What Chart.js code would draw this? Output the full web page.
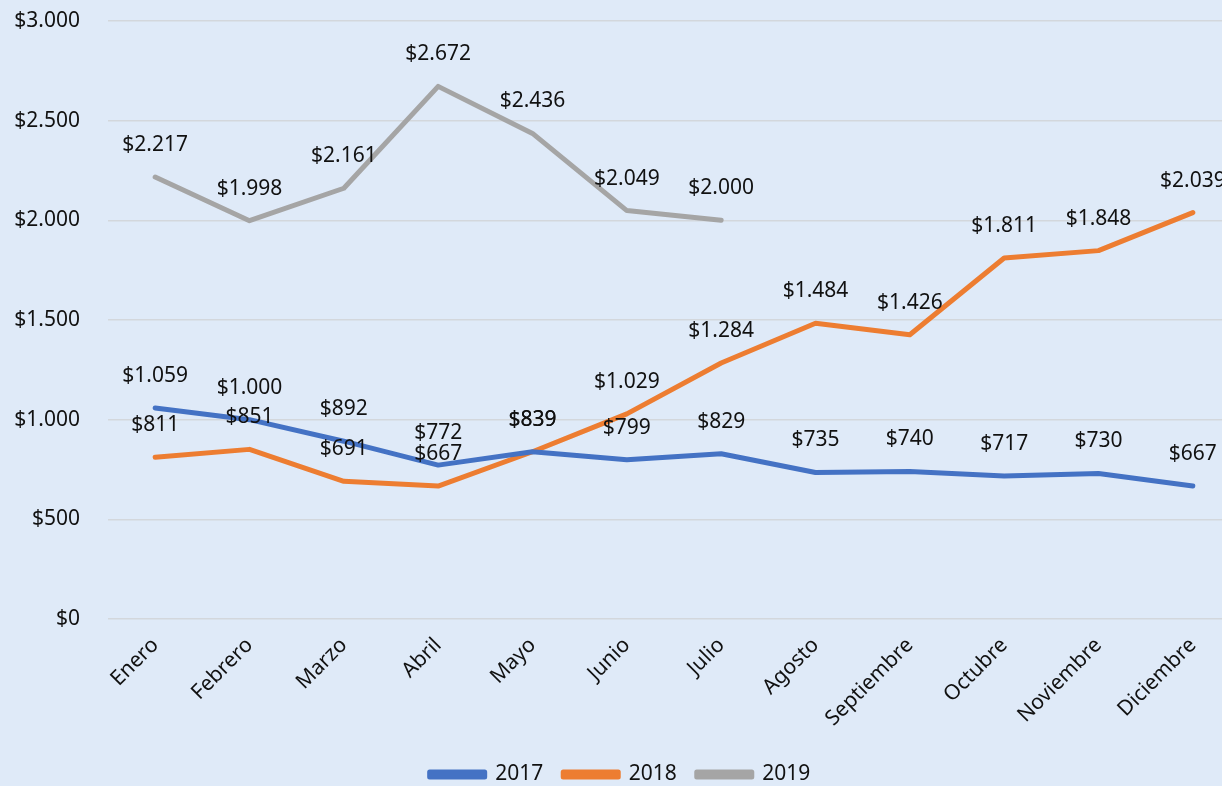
<!DOCTYPE html>
<html>
<head>
    <meta charset="utf-8">
    <title>Ventas mensuales 2017-2019</title>
    <script src="https://cdn.jsdelivr.net/npm/chart.js"></script>
    <style>
        html, body {
            margin: 0;
            padding: 0;
            overflow: hidden;
            background: #dfeaf8;
        }
        .chart-box {
            position: absolute;
            left: 0;
            top: 0;
            width: 1270px;
            height: 786px;
            background: #dfeaf8;
        }
    </style>
</head>
<body>
    <div class="chart-box">
        <canvas id="myChart"></canvas>
    </div>

    <script>
        // datos
        const meses = ['Enero', 'Febrero', 'Marzo', 'Abril', 'Mayo', 'Junio', 'Julio',
                       'Agosto', 'Septiembre', 'Octubre', 'Noviembre', 'Diciembre'];
        const ventas2017 = [1059, 1000, 892, 772, 839, 799, 829, 735, 740, 717, 730, 667];
        const ventas2018 = [811, 851, 691, 667, 839, 1029, 1284, 1484, 1426, 1811, 1848, 2039];
        const ventas2019 = [2217, 1998, 2161, 2672, 2436, 2049, 2000, null, null, null, null, null];

        const fuente = '"Noto Sans", "Open Sans", sans-serif';

        // formato $1.234
        function moneda(v) {
            return '$' + Math.round(v).toString().replace(/\B(?=(\d{3})+(?!\d))/g, '.');
        }

        // etiquetas de valor encima de cada punto
        const etiquetasPlugin = {
            id: 'etiquetas',
            afterDatasetsDraw(chart) {
                const ctx = chart.ctx;
                ctx.save();
                ctx.font = '21px ' + fuente;
                ctx.fillStyle = '#111';
                ctx.textAlign = 'center';
                ctx.textBaseline = 'middle';
                chart.data.datasets.forEach((ds, i) => {
                    const meta = chart.getDatasetMeta(i);
                    meta.data.forEach((pt, j) => {
                        const v = ds.data[j];
                        if (v === null || v === undefined) return;
                        ctx.fillText(moneda(v), pt.x, pt.y - 32);
                    });
                });
                ctx.restore();
            }
        };

        const ctx = document.getElementById('myChart').getContext('2d');
        const myChart = new Chart(ctx, {
            type: 'line',
            data: {
                labels: meses,
                datasets: [
                    { label: '2017', data: ventas2017, borderColor: '#4472c4', backgroundColor: '#4472c4' },
                    { label: '2018', data: ventas2018, borderColor: '#ed7d31', backgroundColor: '#ed7d31' },
                    { label: '2019', data: ventas2019, borderColor: '#a5a5a5', backgroundColor: '#a5a5a5' }
                ]
            },
            plugins: [etiquetasPlugin],
            options: {
                responsive: true,
                maintainAspectRatio: false,
                animation: false,
                layout: {
                    padding: { top: 21, right: 30, bottom: -9, left: 0 }
                },
                elements: {
                    line: { borderWidth: 5, tension: 0, borderCapStyle: 'round', borderJoinStyle: 'round' },
                    point: { radius: 0, hoverRadius: 0 }
                },
                plugins: {
                    legend: {
                        position: 'bottom',
                        labels: {
                            boxWidth: 55,
                            boxHeight: 5,
                            padding: 20,
                            color: '#111',
                            font: { family: fuente, size: 21 }
                        }
                    },
                    tooltip: { enabled: false }
                },
                scales: {
                    x: {
                        offset: true,
                        grid: { display: false, drawTicks: false },
                        border: { display: false },
                        ticks: {
                            minRotation: 45,
                            maxRotation: 45,
                            padding: 14,
                            color: '#111',
                            font: { family: fuente, size: 21 }
                        },
                        afterFit(scale) {
                            scale.height = 125;
                        }
                    },
                    y: {
                        min: 0,
                        max: 3000,
                        grid: {
                            color: '#d3d7dc',
                            lineWidth: 1.5,
                            drawTicks: true,
                            tickLength: 23,
                            tickColor: 'rgba(0,0,0,0)'
                        },
                        border: { display: false },
                        ticks: {
                            stepSize: 500,
                            padding: 5,
                            color: '#111',
                            font: { family: fuente, size: 21 },
                            callback: v => moneda(v)
                        },
                        afterFit(scale) {
                            scale.width = 108;
                        }
                    }
                }
            }
        });
    </script>
</body>
</html>
